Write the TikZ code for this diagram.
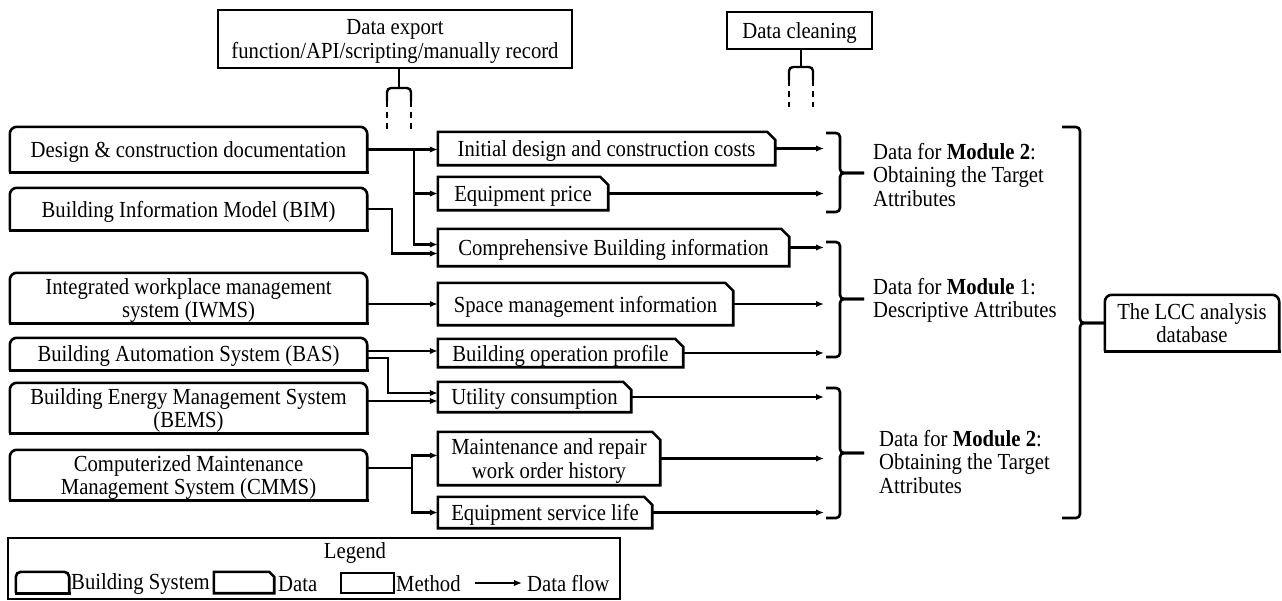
\documentclass[tikz,border=0pt]{standalone}
\usepackage{fontspec}
\setmainfont{Liberation Serif}[FakeStretch=0.9]
\usetikzlibrary{arrows.meta,calc}
\newcommand\myfs{\fontsize{23}{23.5}\selectfont}
\newcommand\sysframe[2][7pt]{%
  \draw[lw,rounded corners=#1] (#2.south west) -- (#2.north west) -- (#2.north east) -- (#2.south east);
  \draw[lw,line cap=rect] (#2.south west) -- (#2.south east);}
\newcommand\dataframe[2][8pt]{%
  \draw[lw,line join=miter] (#2.south west) -- (#2.north west) -- ([xshift=-#1]#2.north east) -- ([yshift=-#1]#2.north east) -- (#2.south east) -- cycle;}
\begin{document}
\begin{tikzpicture}[x=1pt,y=-1pt,
  lw/.style={line width=2.6pt},
  bx/.style 2 args={minimum width=#1,minimum height=#2,inner sep=0pt,align=center,font=\myfs,text depth=0pt},
  meth/.style={draw,line width=2.6pt},
  arr/.style={line width=2.4pt,-{Latex[length=8pt,width=6.5pt]}},
  lab/.style={anchor=west,align=left,inner sep=0pt,font=\myfs},
  brk/.style={line width=2.6pt,rounded corners=4pt},
  fork/.style={line width=2.4pt},
  dsh/.style={line width=2.4pt,dash pattern=on 6pt off 5pt}
]
\useasboundingbox (0,0) rectangle (1282,600);

% methods
\node[bx={354pt}{58pt},meth] (exp) at (395,39) {Data export\\function/API/scripting/manually record};
\node[bx={145pt}{37pt},meth] (clean) at (799.5,30.5) {Data cleaning};

% forks
\coordinate (f1) at (399,88);
\draw[fork] ([xshift=4pt]exp.south) -- (f1);
\draw[fork,rounded corners=4pt] (387,101) -- (387,88) -- (411,88) -- (411,101);
\draw[dsh] (387,101) -- (387,130);
\draw[dsh] (411,101) -- (411,130);
\coordinate (f2) at (801,67);
\draw[fork] ([xshift=1.5pt]clean.south) -- (f2);
\draw[fork,rounded corners=4pt] (789,80) -- (789,67) -- (813,67) -- (813,80);
\draw[dsh] (789,80) -- (789,107);
\draw[dsh] (813,80) -- (813,107);

% building systems
\node[bx={357pt}{45pt}] (dcd) at (188.5,149.5) {Design \& construction documentation}; \sysframe{dcd}
\node[bx={357pt}{42pt}] (bim) at (188.5,209) {Building Information Model (BIM)}; \sysframe{bim}
\node[bx={357pt}{50pt}] (iwms) at (188.5,298) {Integrated workplace management\\system (IWMS)}; \sysframe{iwms}
\node[bx={357pt}{32pt}] (bas) at (188.5,354) {Building Automation System (BAS)}; \sysframe{bas}
\node[bx={357pt}{50pt}] (bems) at (188.5,408) {Building Energy Management System\\(BEMS)}; \sysframe{bems}
\node[bx={357pt}{50pt}] (cmms) at (188.5,475) {Computerized Maintenance\\Management System (CMMS)}; \sysframe{cmms}

% data
\node[bx={337pt}{33pt}] (init) at (606.5,148.5) {Initial design and construction costs}; \dataframe{init}
\node[bx={170pt}{33pt}] (equip) at (523,193.5) {Equipment price}; \dataframe{equip}
\node[bx={351pt}{37pt}] (comp) at (613.5,247.5) {Comprehensive Building information}; \dataframe{comp}
\node[bx={295pt}{42pt}] (space) at (585.5,304) {Space management information}; \dataframe{space}
\node[bx={245pt}{28pt}] (bop) at (560.5,353) {Building operation profile}; \dataframe{bop}
\node[bx={193pt}{30pt}] (util) at (534.5,397) {Utility consumption}; \dataframe{util}
\node[bx={222pt}{53pt}] (maint) at (549,458.5) {Maintenance and repair\\work order history}; \dataframe{maint}
\node[bx={214pt}{31pt}] (esl) at (545,512.5) {Equipment service life}; \dataframe{esl}

% flows from systems
\coordinate (j1) at (414,149.5);
\draw[arr] (dcd.east) -- (dcd.east -| init.west);
\draw[arr] (j1) |- (equip.west);
\draw[arr] (j1) |- ([yshift=3pt]comp.west);
\draw[arr] (bim.east) -- ++(25,0) |- ([yshift=-6pt]comp.west);
\draw[arr] (iwms.east |- space.west) -- (space.west);
\draw[arr] ([yshift=3pt]bas.east) -- ([yshift=3pt]bas.east -| bop.west);
\draw[arr] ([yshift=-4pt]bas.east) -- ++(21,0) |- ([yshift=4pt]util.west);
\draw[arr] ([yshift=-4pt]util.west -| bems.east) -- ([yshift=-4pt]util.west);
\coordinate (j2) at (412,468);
\draw[arr,-] (cmms.east |- j2) -- (j2);
\draw[arr] (j2) |- ([yshift=3pt]maint.west);
\draw[arr] (j2) |- (esl.west);

% brackets
\coordinate (b1t) at (826,133); \coordinate (b1b) at (826,212); \coordinate (b1m) at (864,173);
\coordinate (b2t) at (826,242); \coordinate (b2b) at (826,357); \coordinate (b2m) at (864,299);
\coordinate (b3t) at (826,388); \coordinate (b3b) at (826,518); \coordinate (b3m) at (864,453);
\draw[brk] (b1t) -| (840,173) -- (b1m);
\draw[brk] (b1b) -| (840,173) -- (b1m);
\draw[brk] (b2t) -| (840,299) -- (b2m);
\draw[brk] (b2b) -| (840,299) -- (b2m);
\draw[brk] (b3t) -| (840,453) -- (b3m);
\draw[brk] (b3b) -| (840,453) -- (b3m);

% flows to brackets
\draw[arr,shorten >=2pt] (init.east) -- (init.east -| b1t);
\draw[arr,shorten >=2pt] (equip.east) -- (equip.east -| b1t);
\draw[arr,shorten >=2pt] (comp.east) -- (comp.east -| b2t);
\draw[arr,shorten >=2pt] (space.east) -- (space.east -| b2t);
\draw[arr,shorten >=2pt] (bop.east) -- (bop.east -| b2t);
\draw[arr,shorten >=2pt] (util.east) -- (util.east -| b3t);
\draw[arr,shorten >=2pt] (maint.east) -- (maint.east -| b3t);
\draw[arr,shorten >=2pt] (esl.east) -- (esl.east -| b3t);

% module labels
\node[lab] (m2a) at (873,175) {Data for \textbf{Module 2}:\\Obtaining the Target\\Attributes};
\node[lab] (m1) at (873,300.5) {Data for \textbf{Module} 1:\\Descriptive Attributes};
\node[lab] (m2b) at (879,462) {Data for \textbf{Module 2}:\\Obtaining the Target\\Attributes};

% database
\node[bx={174pt}{56pt}] (lcc) at (1192,323) {The LCC analysis\\database}; \sysframe{lcc}
\coordinate (bbt) at (1062,127); \coordinate (bbb) at (1062,518); \coordinate (bbm) at (1080,323);
\draw[brk] (bbt) -| (bbm) -- (lcc.west);
\draw[brk] (bbb) -| (bbm) -- (lcc.west);

% legend
\node[draw,line width=1.4pt,minimum width=612pt,minimum height=61pt,inner sep=0pt] (leg) at (314,568.5) {};
\node[font=\myfs,inner sep=0pt] (legt) at (355,553) {Legend};
\node[bx={53pt}{21pt}] (lsys) at (42.5,582.5) {}; \sysframe[5pt]{lsys}
\node[lab] (lsyst) at (71,584) {Building System};
\node[bx={60pt}{21pt}] (ldat) at (244,582.5) {}; \dataframe[5pt]{ldat}
\node[lab] (ldatt) at (278,584) {Data};
\node[bx={53pt}{20pt},meth] (lmet) at (367.5,583) {};
\node[lab] (lmett) at (396,584) {Method};
\coordinate (la1) at (475,583); \coordinate (la2) at (522,583);
\draw[arr] (la1) -- (la2);
\node[lab] (lflow) at (527,584) {Data flow};
\end{tikzpicture}
\end{document}
